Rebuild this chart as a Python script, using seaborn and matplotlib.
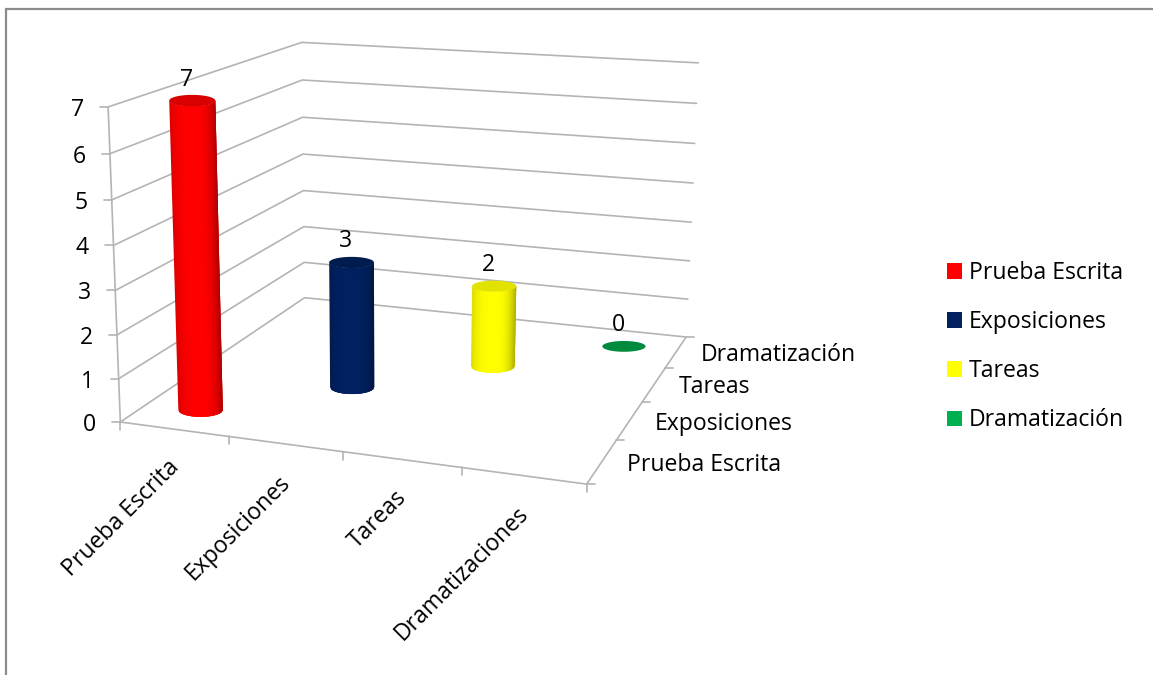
import numpy as np
import pandas as pd
import seaborn as sns
import matplotlib
matplotlib.use("Agg")
import matplotlib.pyplot as plt
from matplotlib.collections import PolyCollection
from matplotlib.patches import Patch, Polygon

# Chart data
categories = ["Prueba Escrita", "Exposiciones", "Tareas", "Dramatizaciones"]
series = ["Prueba Escrita", "Exposiciones", "Tareas", "Dramatización"]
values = [7, 3, 2, 0]
value_ticks = [0, 1, 2, 3, 4, 5, 6, 7]

# Colours
series_colors = ["#FF0000", "#002060", "#FFFF00", "#00B050"]
cap_colors = ["#D80000", "#001B4E", "#E2E200", "#008A3E"]
grid_color = "#B4B4B4"
frame_color = "#8C8C8C"

sns.set_theme(style="white")
plt.rcParams["font.family"] = ["Open Sans", "DejaVu Sans"]
FS = 16.6

W, H = 1153, 675
fig = plt.figure(figsize=(W / 100, H / 100), dpi=100)
ax = fig.add_axes([0, 0, 1, 1])
ax.set_xlim(0, W)
ax.set_ylim(H, 0)
ax.axis("off")

# Perspective camera solved from the visible corners of the 3-D box
n_cat, n_ser, top = len(categories), len(series), max(value_ticks)
box_world = [(0, 0, 0), (n_cat, 0, 0), (0, n_ser, 0), (n_cat, n_ser, 0),
             (0, 0, top), (0, n_ser, top), (n_cat, n_ser, top)]
box_screen = [(122, 423), (586, 484), (303, 297), (687, 337),
              (107, 106), (303, 43), (698, 63)]
rows = []
for (X, Y, Z), (u, v) in zip(box_world, box_screen):
    u, v = u / 1000, v / 1000
    rows.append([X, Y, Z, 1, 0, 0, 0, 0, -u * X, -u * Y, -u * Z, -u])
    rows.append([0, 0, 0, 0, X, Y, Z, 1, -v * X, -v * Y, -v * Z, -v])
camera = np.linalg.svd(np.array(rows))[2][-1].reshape(3, 4)


def project(x, y, z):
    p = camera @ np.array([x, y, z, 1.0])
    return np.array([p[0] / p[2] * 1000, p[1] / p[2] * 1000])


# Wall gridlines and box edges
grid_rows = []
for level in value_ticks:
    for order, corner in enumerate([(0, 0), (0, n_ser), (n_cat, n_ser)]):
        px, py = project(corner[0], corner[1], level)
        grid_rows.append({"level": f"v{level}", "order": order, "px": px, "py": py})
edges = {"front": [(0, 0, 0), (n_cat, 0, 0)],
         "side": [(n_cat, 0, 0), (n_cat, n_ser, 0)],
         "axis": [(0, 0, 0), (0, 0, top)]}
for name, pts in edges.items():
    for order, pt in enumerate(pts):
        px, py = project(*pt)
        grid_rows.append({"level": name, "order": order, "px": px, "py": py})
sns.lineplot(data=pd.DataFrame(grid_rows), x="px", y="py", units="level",
             estimator=None, sort=False, color=grid_color, linewidth=1.2,
             legend=False, ax=ax, zorder=1)
ax.set_xlim(0, W)
ax.set_ylim(H, 0)

# Tick marks and labels
TICK = 8
tick_kw = dict(color=grid_color, linewidth=1.2, zorder=1)
text_kw = dict(color="black", fontsize=FS)
for level in value_ticks:
    px, py = project(0, 0, level)
    ax.plot([px - TICK, px], [py, py], **tick_kw)
    ax.text(px - 31, py + 3, str(level), ha="center", va="center", **text_kw)
for i in range(n_cat + 1):
    px, py = project(i, 0, 0)
    ax.plot([px, px], [py, py + TICK], **tick_kw)
for j in range(n_ser + 1):
    px, py = project(n_cat, j, 0)
    ax.plot([px, px + TICK], [py, py], **tick_kw)
for i, label in enumerate(categories):
    px, py = project(i + 0.5, 0, 0)
    ax.text(px + 2, py + 35, label, rotation=45, rotation_mode="anchor",
            ha="right", va="center", **text_kw)
for j, label in enumerate(series):
    px, py = project(n_cat, j + 0.5, 0)
    ax.text(px + 25, py + 3, label, ha="left", va="center", **text_kw)


def ellipse_points(center, a, b, n=80):
    th = np.linspace(0, 2 * np.pi, n)
    return np.column_stack([center[0] + a * np.cos(th), center[1] + b * np.sin(th)])


# One shaded cylinder per value, standing on the floor diagonal
RADIUS = 0.208
FLATTEN_HEAD = 0.25
FLATTEN_BASE = 0.31
t_edges = np.linspace(-1, 1, 49)
for k, value in enumerate(values):
    cx, cy = k + 0.5, k + 0.5
    base = project(cx, cy, 0)
    head = project(cx, cy, value)
    a_base = RADIUS * np.linalg.norm(project(cx + 0.5, cy, 0) - project(cx - 0.5, cy, 0))
    a_head = RADIUS * np.linalg.norm(project(cx + 0.5, cy, value) - project(cx - 0.5, cy, value))
    b_base, b_head = a_base * FLATTEN_BASE, a_head * FLATTEN_HEAD
    rgb = np.array(matplotlib.colors.to_rgb(series_colors[k]))
    if value > 0:
        # Strips overlap and are painted left to right so no seams show
        polys, shades = [], []
        for idx in range(len(t_edges) - 1):
            ts = t_edges[idx:idx + 4]
            xt = head[0] + ts * a_head
            xb = base[0] + ts * a_base
            yb = base[1] + b_base * np.sqrt(1 - ts ** 2)
            yt = head[1] + b_head * np.sqrt(1 - ts ** 2)
            polys.append(list(zip(xt, yt)) + list(zip(xb[::-1], yb[::-1])))
            t = (t_edges[idx] + t_edges[idx + 1]) / 2
            dark = 0.14 * abs(t) ** 3 if t < 0 else 0.32 * t ** 3
            shades.append(np.clip(rgb * (1 - dark), 0, 1))
        ax.add_collection(PolyCollection(polys, facecolors=shades, edgecolors="none",
                                         linewidths=0, zorder=3))
    ax.add_patch(Polygon(ellipse_points(head, a_head, b_head), closed=True,
                         facecolor=cap_colors[k], edgecolor="none", zorder=4))
    ax.text(head[0] - 6, head[1] - 21, str(value), ha="center", va="center",
            zorder=5, **text_kw)

# Legend
handles = [Patch(facecolor=c, edgecolor="none") for c in series_colors]
ax.legend(handles, series, loc="upper left", bbox_to_anchor=(947 / W, 1 - 261 / H),
          frameon=False, fontsize=FS, handlelength=0.65, handleheight=0.65,
          handletextpad=0.3, labelspacing=1.09, borderaxespad=0, borderpad=0,
          labelcolor="black")

# Outer frame along the top and left
ax.plot([6, W], [9, 9], color=frame_color, linewidth=1.6, zorder=0)
ax.plot([6, 6], [9, H], color=frame_color, linewidth=1.6, zorder=0)

fig.savefig("out.png", dpi=100, facecolor="white")
